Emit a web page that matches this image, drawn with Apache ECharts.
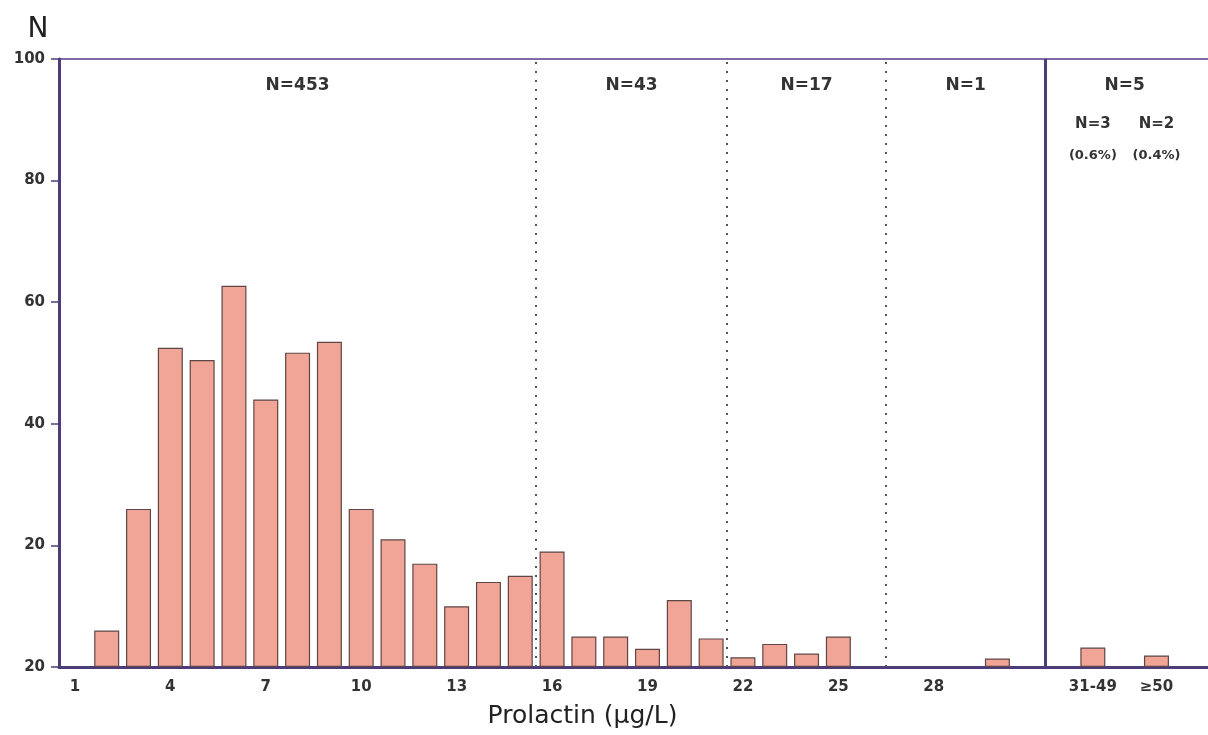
<!DOCTYPE html>
<html>
<head>
<meta charset="utf-8">
<title>Prolactin distribution</title>
<script src="https://cdn.jsdelivr.net/npm/echarts@6/dist/echarts.min.js"></script>
<style>
html, body { margin: 0; padding: 0; background: #fff; }
#chart { width: 1208px; height: 735px; }
</style>
</head>
<body>
<div id="chart"></div>
<script>
// bins along the x axis (blank names are spacer bins after the axis break)
var categories = ['1', '2', '3', '4', '5', '6', '7', '8', '9', '10',
    '11', '12', '13', '14', '15', '16', '17', '18', '19', '20',
    '21', '22', '23', '24', '25', '26', '27', '28', '29', '30', '31',
    '', '31-49', ' ', '≥50', '  ', '   '];

// number of subjects per bin
var counts = [null, 6, 26, 52.5, 50.5, 62.7, 44, 51.7, 53.5, 26,
    21, 17, 10, 14, 15, 19, 5, 5, 3, 11,
    4.7, 1.6, 3.8, 2.2, 5, null, null, null, null, 1.4, null,
    null, 3.2, null, 1.9, null, null];

// tick labels
var xLabelsShown = ['1', '4', '7', '10', '13', '16', '19', '22', '25', '28', '31-49', '≥50'];
var yTickLabels = ['20', '20', '40', '60', '80', '100'];

// groups: first bin, last bin, text
var groupStart = ['1', '16', '22', '27', '31'];
var groupEnd = ['15', '21', '26', '31', '  '];
var groupLabels = ['N=453', 'N=43', 'N=17', 'N=1', 'N=5'];

// sub notes over the last two bins
var noteBins = ['31-49', '≥50'];
var noteCounts = ['N=3', 'N=2'];
var notePercents = ['(0.6%)', '(0.4%)'];

// dotted dividers after these bins, solid break after the last one
var dottedAfter = ['15', '21', '26'];
var breakAfter = '31';

var AXIS = '#4c3d7a';
var TEXT = '#333';
var FONT = '"DejaVu Sans", sans-serif';

function idx(name) { return categories.indexOf(name); }

function areaSeries(starts, ends, texts, dist, size) {
    var data = [];
    for (var i = 0; i < texts.length; i++) {
        data.push([{ xAxis: starts[i], name: texts[i] }, { xAxis: ends[i] }]);
    }
    return {
        type: 'line',
        xAxisIndex: 1,
        data: [],
        silent: true,
        markArea: {
            silent: true,
            itemStyle: { color: 'rgba(0,0,0,0)' },
            label: {
                position: 'insideTop',
                distance: dist,
                color: TEXT,
                fontFamily: FONT,
                fontWeight: 'bold',
                fontSize: size
            },
            data: data
        }
    };
}

var gStarts = groupStart.map(function (n, i) { return i === groupStart.length - 1 ? idx(n) + 0.5 : idx(n) - 0.5; });
var gEnds = groupEnd.map(function (n) { return idx(n) + 0.5; });
var nStarts = noteBins.map(function (n) { return idx(n) - 0.5; });
var nEnds = noteBins.map(function (n) { return idx(n) + 0.5; });

var lines = dottedAfter.map(function (n) {
    return { xAxis: idx(n) + 0.5, lineStyle: { color: '#555', type: [2, 7], width: 2 } };
});
lines.push({ xAxis: idx(breakAfter) + 0.5, lineStyle: { color: AXIS, type: 'solid', width: 3 } });

var chart = echarts.init(document.getElementById('chart'));

chart.setOption({
    animation: false,
    backgroundColor: '#fff',
    grid: {
        left: 59,
        top: 59,
        bottom: 68,
        width: 1177,
        containLabel: false,
        outerBoundsMode: 'none',
        show: true,
        borderColor: '#7f6ca6',
        borderWidth: 2,
        backgroundColor: '#fff'
    },
    xAxis: [{
        type: 'category',
        data: categories,
        name: 'Prolactin (μg/L)',
        nameLocation: 'middle',
        nameGap: 37,
        nameTextStyle: { fontFamily: FONT, fontSize: 25, color: '#222', padding: [0, 130, 0, 0] },
        axisLine: { lineStyle: { color: AXIS, width: 3 } },
        axisTick: {
            alignWithLabel: true,
            length: 7,
            lineStyle: { color: AXIS, width: 1.5 },
            interval: function (i, v) { return v.trim() !== ''; }
        },
        axisLabel: {
            margin: 13,
            color: TEXT,
            fontFamily: FONT,
            fontWeight: 'bold',
            fontSize: 15,
            interval: function (i, v) { return xLabelsShown.indexOf(v) >= 0; }
        },
        splitLine: { show: false }
    }, {
        type: 'value',
        min: -0.5,
        max: categories.length - 0.5,
        show: false
    }],
    yAxis: {
        type: 'value',
        min: 0,
        max: 100,
        interval: 20,
        name: 'N',
        nameLocation: 'end',
        nameGap: 15,
        nameTextStyle: { fontFamily: FONT, fontSize: 28, color: '#222', padding: [0, 42, 0, 0] },
        axisLine: { show: true, onZero: false, lineStyle: { color: AXIS, width: 3 } },
        axisTick: { show: true, length: 8, lineStyle: { color: AXIS, width: 1.5 } },
        axisLabel: {
            margin: 14,
            color: TEXT,
            fontFamily: FONT,
            fontWeight: 'bold',
            fontSize: 15,
            formatter: function (v) { return yTickLabels[Math.round(v / 20)]; }
        },
        splitLine: { show: false }
    },
    series: [{
        type: 'bar',
        data: counts,
        barWidth: 25,
        itemStyle: { color: '#f1a597', borderColor: '#5e4646', borderWidth: 1.2 }
    }, {
        type: 'line',
        xAxisIndex: 1,
        data: [],
        silent: true,
        markLine: {
            silent: true,
            symbol: ['none', 'none'],
            label: { show: false },
            data: lines
        }
    },
        areaSeries(gStarts, gEnds, groupLabels, 18, 17),
        areaSeries(nStarts, nEnds, noteCounts, 58, 15),
        areaSeries(nStarts, nEnds, notePercents, 90, 13)
    ]
});
</script>
</body>
</html>
